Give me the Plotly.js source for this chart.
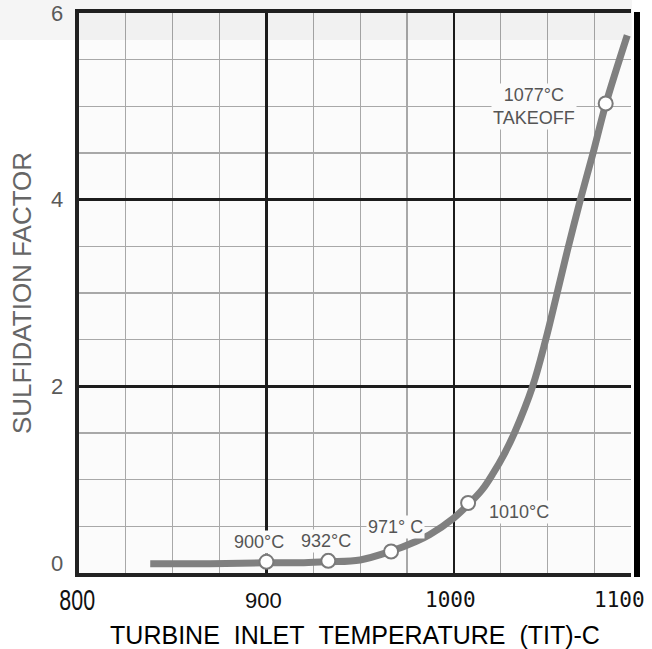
<!DOCTYPE html>
<html>
<head>
<meta charset="utf-8">
<script src="https://cdn.plot.ly/plotly-3.0.1.min.js"></script>
<style>
  html, body { margin: 0; padding: 0; background: #ffffff; }
  #chart { width: 652px; height: 649px; }
</style>
</head>
<body>
<div id="chart"></div>
<script>
// ---- data ----
const curveTemp   = [838, 870, 900, 920, 933, 950, 966, 980, 987, 1000, 1008, 1015, 1021, 1027, 1032.5, 1042, 1049, 1054.5, 1060.5, 1067.5, 1074, 1081, 1092.5];
const curveFactor = [0.10, 0.10, 0.11, 0.11, 0.12, 0.14, 0.23, 0.34, 0.41, 0.59, 0.74, 0.89, 1.07, 1.28, 1.51, 2.0, 2.5, 2.95, 3.45, 4.0, 4.48, 5.02, 5.76];

const pointTemp   = [900, 933, 966.5, 1007.6, 1081];
const pointFactor = [0.12, 0.13, 0.23, 0.75, 5.03];
const pointLabels = ['900°C', '932°C', '971° C', '1010°C', '1077°C<br>TAKEOFF'];

const xTickValues = [800, 900, 1000, 1100];
const xTickLabels = ['800', '900', '1000', '1100'];
const yTickValues = [0, 2, 4, 6];
const yTickLabels = ['0', '2', '4', '6'];

const xTitle = 'TURBINE&nbsp;&nbsp;INLET&nbsp;&nbsp;TEMPERATURE&nbsp;&nbsp;(TIT)-C';
const yTitle = 'SULFIDATION FACTOR';

// ---- styling / layout ----
const xRange = [800, 1094.5];
const yRange = [0, 6];
const labelShift = [[-7, 20], [-2, 20], [4, 25], [51, -9], [-72, -3]];
const xTickShift = [-2, -2.5, -3, -21.5];
const xTickFonts = [
  {family: '"Liberation Sans", Arial, sans-serif', size: 29, color: '#111'},
  {family: '"Liberation Sans", Arial, sans-serif', size: 22, color: '#111'},
  {family: '"DejaVu Sans Mono", monospace', size: 21, color: '#111'},
  {family: '"DejaVu Sans Mono", monospace', size: 21, color: '#111'}
];
const yTickShift = [10, 0, 0, 0];
const sans = '"Liberation Sans", Arial, sans-serif';
const bgPlot = '#fbfbfb';

const annotations = [];
pointLabels.forEach((t, i) => {
  annotations.push({
    xref: 'x', yref: 'y', x: pointTemp[i], y: pointFactor[i], text: t,
    showarrow: false, xanchor: 'center', yanchor: 'middle',
    xshift: labelShift[i][0], yshift: labelShift[i][1],
    font: {family: sans, size: 18, color: '#555'},
    bgcolor: bgPlot, borderpad: 1
  });
});
xTickLabels.forEach((t, i) => {
  annotations.push({
    xref: 'paper', yref: 'paper',
    x: (xTickValues[i] - xRange[0]) / (xRange[1] - xRange[0]), y: 0,
    text: t, showarrow: false, xanchor: 'center', yanchor: 'middle',
    xshift: xTickShift[i], yshift: -27, font: xTickFonts[i]
  });
});
yTickLabels.forEach((t, i) => {
  annotations.push({
    xref: 'paper', yref: 'y', x: 0, y: yTickValues[i], text: t,
    showarrow: false, xanchor: 'right', yanchor: 'middle',
    xshift: -14, yshift: yTickShift[i],
    font: {family: sans, size: 22, color: '#5a5a5a'}
  });
});

const traces = [
  {
    x: curveTemp, y: curveFactor, type: 'scatter', mode: 'lines',
    line: {color: '#808080', width: 7, shape: 'spline', smoothing: 1},
    hoverinfo: 'skip', showlegend: false, cliponaxis: false
  },
  {
    x: pointTemp, y: pointFactor, type: 'scatter', mode: 'markers',
    marker: {size: 14, color: '#ffffff', line: {color: '#7a7a7a', width: 2}},
    hoverinfo: 'skip', showlegend: false, cliponaxis: false
  }
];

const layout = {
  width: 652, height: 649,
  margin: {l: 79, r: 21, t: 13, b: 76, pad: 0},
  paper_bgcolor: '#ffffff', plot_bgcolor: bgPlot,
  showlegend: false,
  xaxis: {
    range: xRange, tickvals: [800, 900, 1000], showticklabels: false, ticks: '',
    showgrid: true, gridcolor: '#1c1c1c', gridwidth: 2.5, zeroline: false,
    showline: true, linecolor: '#222', linewidth: 4, mirror: true,
    minor: {dtick: 25, tick0: 800, showgrid: true, gridcolor: '#a8a8a8', gridwidth: 1.2},
    title: {text: xTitle, font: {family: sans, size: 25, color: '#000'}, standoff: 52},
    automargin: false, fixedrange: true
  },
  yaxis: {
    range: yRange, tickvals: yTickValues, showticklabels: false, ticks: '',
    showgrid: true, gridcolor: '#1c1c1c', gridwidth: 2.5, zeroline: false,
    showline: true, linecolor: '#222', linewidth: 4, mirror: false,
    minor: {dtick: 0.5, tick0: 0, showgrid: true, gridcolor: '#a8a8a8', gridwidth: 1.2},
    title: {text: yTitle, font: {family: sans, size: 26, color: '#666'}, standoff: 37},
    automargin: false, fixedrange: true
  },
  annotations: annotations,
  shapes: [
    {type: 'rect', xref: 'paper', yref: 'paper',
     x0: (634 - 79) / 552, x1: (640 - 79) / 552, y0: -4 / 560, y1: 561 / 560,
     fillcolor: '#000', line: {width: 0}, layer: 'above'},
    {type: 'rect', xref: 'paper', yref: 'paper',
     x0: -79 / 552, x1: 553 / 552, y0: 533 / 560, y1: 573 / 560,
     fillcolor: 'rgba(0,0,0,0.04)', line: {width: 0}, layer: 'above'}
  ]
};

Plotly.newPlot('chart', traces, layout, {staticPlot: true, displayModeBar: false}).then(gd => {
  // the "800" label in the reference uses a tall, condensed face
  gd.querySelectorAll('.annotation-text').forEach(el => {
    if (el.textContent === xTickLabels[0]) {
      el.style.transformBox = 'fill-box';
      el.style.transformOrigin = 'center';
      el.style.transform = 'scaleX(0.74)';
    }
  });
});
</script>
</body>
</html>
